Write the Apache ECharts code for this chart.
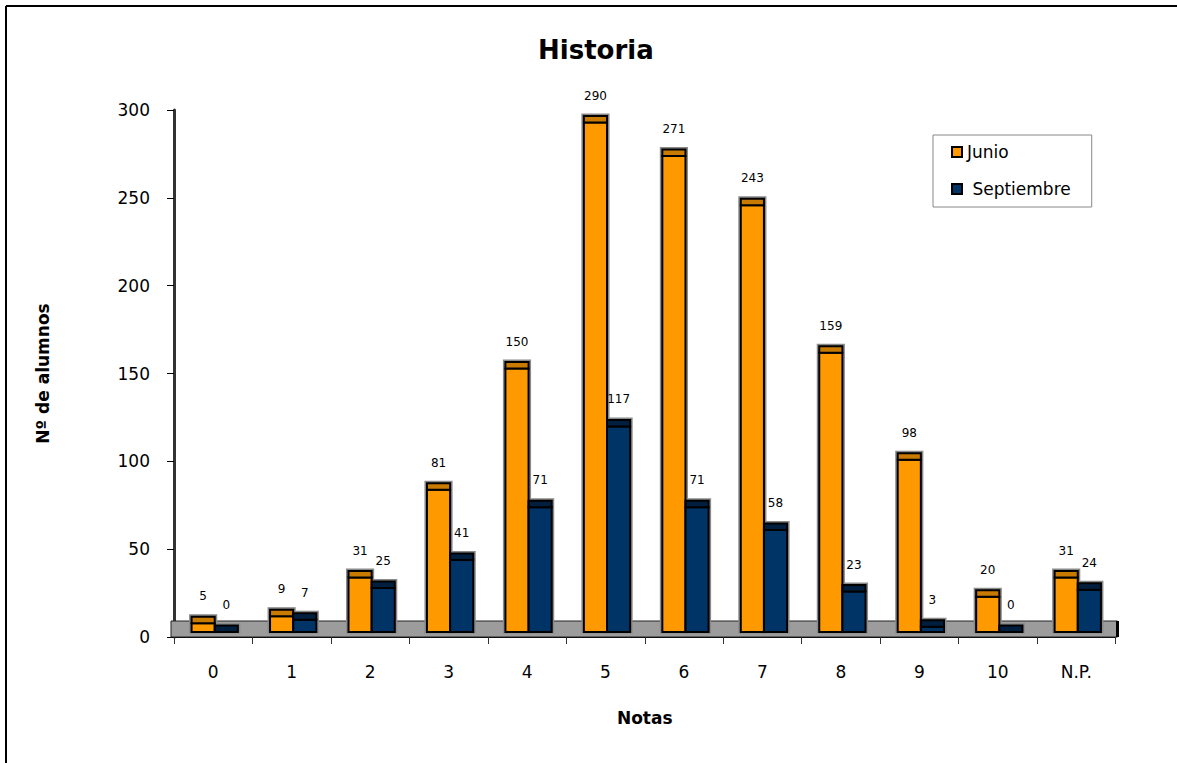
<!DOCTYPE html>
<html><head><meta charset="utf-8">
<script src="https://cdn.jsdelivr.net/npm/echarts@6/dist/echarts.min.js"></script>
<style>html,body{margin:0;padding:0;background:#fff;overflow:hidden;width:1177px;height:763px}#c{position:absolute;left:0;top:0;width:1177px;height:763px}</style>
</head><body><div id="c"></div>
<script>
const categories = ['0','1','2','3','4','5','6','7','8','9','10','N.P.'];
const junio = [5,9,31,81,150,290,271,243,159,98,20,31];
const septiembre = [0,7,25,41,71,117,71,58,23,3,0,24];
const yMin = 0, yMax = 300, yStep = 50;
const seriesNames = ['Junio','Septiembre'];

const FONT = '"DejaVu Sans", Verdana, sans-serif';

function barRenderer(side, front, capColor){
  return function(params, api){
    const cat = api.value(0), v = api.value(1);
    const base = api.coord([cat, 0]);
    const top = api.coord([cat, v]);
    const band = api.size([1, 0])[0];
    const bw = band * 0.295;
    const dx = 1.5, dy = -5, cap = 6.5;
    const x = base[0] + dx - (side === 0 ? bw : 0);
    const yb = base[1] + dy;
    const yt = top[1] + dy;
    const children = [];
    children.push({type:'rect', z2:-10, shape:{x:x-2.5, y:yt-cap-2.5, width:bw+5, height:yb-yt+cap+4}, style:{fill:'#8a8a8a'}});
    if (yb - yt > 0.5) children.push({type:'rect', z2:10, shape:{x:x, y:yt, width:bw, height:yb-yt}, style:{fill:front, stroke:'#000', lineWidth:2}});
    children.push({type:'rect', z2:11, shape:{x:x, y:yt-cap, width:bw, height:cap}, style:{fill:capColor, stroke:'#000', lineWidth:2}});
    children.push({type:'text', z2:12, x: x+bw/2, y: yt-27, style:{text:String(v), fill:'#000', font:'12px ' + FONT, align:'center', verticalAlign:'middle'}});
    return {type:'group', children:children};
  };
}

const chart = echarts.init(document.getElementById('c'), null, {renderer:'svg'});
chart.setOption({
  backgroundColor:'#fff',
  animation:false,
  title:{text:'Historia', left:538, top:37, padding:0, textStyle:{fontFamily:FONT, fontSize:26, fontWeight:'bold', color:'#000'}},
  legend:{
    data:seriesNames, orient:'vertical', left:933, top:135,
    padding:[7,21,8,18], itemGap:17, itemWidth:10, itemHeight:10, icon:'rect',
    borderColor:'#888', borderWidth:1, backgroundColor:'#fff',
    formatter: function(n){ return n === 'Septiembre' ? ' ' + n : n; },
    textStyle:{fontFamily:FONT, fontSize:17, color:'#000', lineHeight:20}
  },
  graphic:[
    {type:'line', shape:{x1:6, y1:6, x2:1180, y2:6}, style:{stroke:'#000', lineWidth:2}, silent:true},
    {type:'line', shape:{x1:6, y1:6, x2:6, y2:770}, style:{stroke:'#000', lineWidth:2}, silent:true}
  ],
  grid:{left:174, right:61.5, top:110, bottom:126},
  xAxis:{
    type:'category', data:categories, boundaryGap:true,
    axisLine:{lineStyle:{color:'#000', width:2}},
    axisTick:{show:true, length:7, lineStyle:{color:'#333', width:1}},
    axisLabel:{margin:26, fontFamily:FONT, fontSize:17, color:'#000'},
    name:'Notas', nameLocation:'middle', nameGap:72,
    nameTextStyle:{fontFamily:FONT, fontSize:17, fontWeight:'bold', color:'#000'}
  },
  yAxis:{
    type:'value', min:yMin, max:yMax, interval:yStep,
    axisLine:{show:true, lineStyle:{color:'#333', width:3}},
    axisTick:{show:true, length:7, lineStyle:{color:'#000', width:1}},
    splitLine:{show:false},
    axisLabel:{margin:24, fontFamily:FONT, fontSize:17, color:'#000'},
    name:'Nº de alumnos', nameLocation:'middle', nameGap:123, nameRotate:90,
    nameTextStyle:{fontFamily:FONT, fontSize:17, fontWeight:'bold', color:'#000'}
  },
  series:[
    {type:'custom', silent:true, z:1, data:[[0,0]], encode:{x:0,y:1},
     renderItem:function(params, api){
       const cs = params.coordSys;
       const x0 = cs.x, x1 = cs.x + cs.width, yb = cs.y + cs.height;
       return {type:'group', children:[
         {type:'rect', shape:{x:x0-3, y:yb-16, width:x1-x0+5, height:16}, style:{fill:'#9c9c9c', stroke:'#222', lineWidth:1}},
         {type:'line', shape:{x1:x1+2, y1:yb-16, x2:x1+2, y2:yb}, style:{stroke:'#000', lineWidth:3}}
       ]};
     }},
    {name:'Junio', type:'custom', z:2, data:junio.map((v,i)=>[i,v]), encode:{x:0,y:1},
     itemStyle:{color:'#ff9900', borderColor:'#000', borderWidth:1},
     renderItem:barRenderer(0, '#ff9900', '#c97a00')},
    {name:'Septiembre', type:'custom', z:2, data:septiembre.map((v,i)=>[i,v]), encode:{x:0,y:1},
     itemStyle:{color:'#003366', borderColor:'#000', borderWidth:1},
     renderItem:barRenderer(1, '#003366', '#001f3f')}
  ]
});
</script></body></html>
